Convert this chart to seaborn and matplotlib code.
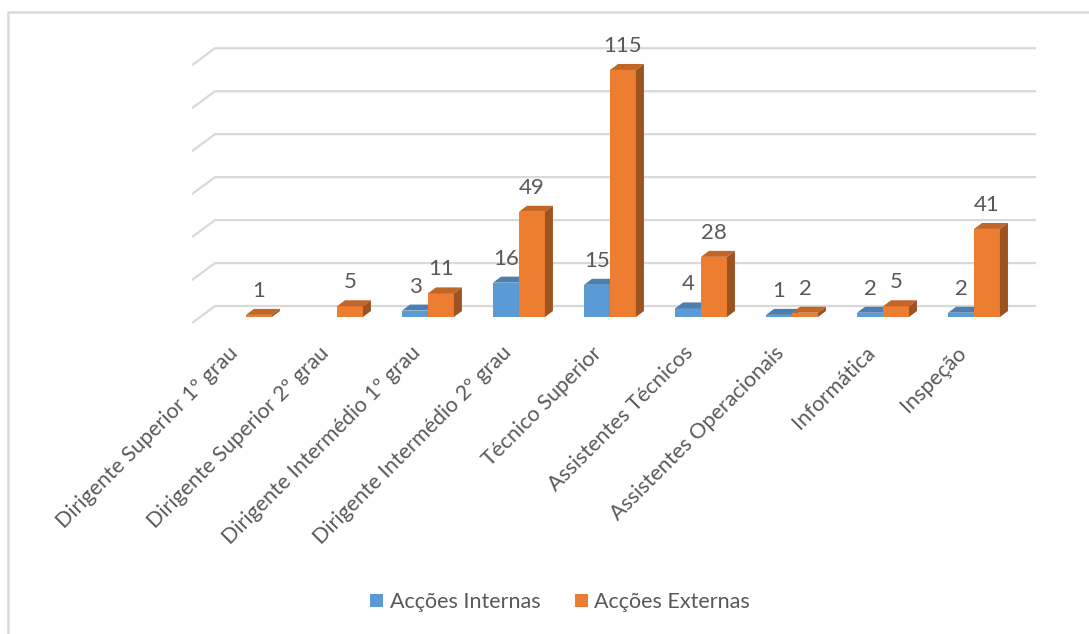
import numpy as np
import pandas as pd
import matplotlib
matplotlib.use("Agg")
import matplotlib.pyplot as plt
import seaborn as sns
from matplotlib.patches import Polygon, Patch
from matplotlib.lines import Line2D
from matplotlib.transforms import ScaledTranslation

# Data
categorias = [
    "Dirigente Superior 1º grau",
    "Dirigente Superior 2º grau",
    "Dirigente Intermédio 1º grau",
    "Dirigente Intermédio 2º grau",
    "Técnico Superior",
    "Assistentes Técnicos",
    "Assistentes Operacionais",
    "Informática",
    "Inspeção",
]
internas = [np.nan, np.nan, 3, 16, 15, 4, 1, 2, 2]
externas = [1, 5, 11, 49, 115, 28, 2, 5, 41]
series = ["Acções Internas", "Acções Externas"]
grid_values = [0, 20, 40, 60, 80, 100, 120]

cores = {"Acções Internas": "#5B9BD5", "Acções Externas": "#ED7D31"}
texto_cor = "#595959"
grelha_cor = "#D9D9D9"

df = pd.DataFrame({
    "categoria": categorias * 2,
    "serie": [series[0]] * len(categorias) + [series[1]] * len(categorias),
    "valor": internas + externas,
})

sns.set_theme(style="white")
plt.rcParams["font.family"] = ["Lato", "DejaVu Sans"]

W, H = 1089, 634
fig = plt.figure(figsize=(W / 100, H / 100), dpi=100)
ax = fig.add_axes([192 / W, 0.4898, 844 / W, 0.4439])

sns.barplot(data=df, x="categoria", y="valor", hue="serie", order=categorias,
            hue_order=series, palette=cores, width=0.57, saturation=1,
            errorbar=None, legend=False, ax=ax, linewidth=0)

ax.set_xlim(-0.593, 8.681)
ax.set_ylim(-3, 128)
fig.canvas.draw()

px_x = ax.bbox.width / (ax.get_xlim()[1] - ax.get_xlim()[0])
px_y = ax.bbox.height / (ax.get_ylim()[1] - ax.get_ylim()[0])

# Depth of the pseudo-3D boxes (pixels -> data units)
dx = 8 / px_x
dy = 6 / px_y

def escurecer(hexcor, f):
    r, g, b = matplotlib.colors.to_rgb(hexcor)
    return (r * f, g * f, b * f)

# Back-wall grid with the floor diagonal on the left
back_up = 11 / px_y
front_down = 6 / px_y
x_left = ax.get_xlim()[0]
x_wall = x_left + 23 / px_x
x_right = ax.get_xlim()[1]
for v in grid_values:
    ax.plot([x_left, x_wall, x_right], [v - front_down, v + back_up, v + back_up],
            color=grelha_cor, lw=1.6, zorder=0.5, solid_capstyle="butt", clip_on=False)

# Identify each bar's series from its colour
rgb_serie = {matplotlib.colors.to_hex(cores[s]): s for s in series}

for bar in list(ax.patches):
    h = bar.get_height()
    if np.isnan(h):
        continue
    serie = rgb_serie.get(matplotlib.colors.to_hex(bar.get_facecolor()[:3]))
    if serie is None:
        continue
    x0 = bar.get_x()
    w = bar.get_width()
    base_z = 2 if serie == series[0] else 3
    bar.set_zorder(base_z)
    cor = cores[serie]
    topo = Polygon([(x0, h), (x0 + w, h), (x0 + w + dx, h + dy), (x0 + dx, h + dy)],
                   closed=True, facecolor=escurecer(cor, 0.82), edgecolor="none",
                   zorder=base_z + 0.1)
    lado = Polygon([(x0 + w, 0), (x0 + w + dx, dy), (x0 + w + dx, h + dy), (x0 + w, h)],
                   closed=True, facecolor=escurecer(cor, 0.66), edgecolor="none",
                   zorder=base_z + 0.1)
    ax.add_patch(topo)
    ax.add_patch(lado)
    ax.annotate(f"{int(h)}", xy=(x0 + w / 2, h), xytext=(0, 24 * 0.72),
                textcoords="offset points", ha="center", va="center",
                fontsize=16, color=texto_cor, zorder=5)

for s in ax.spines.values():
    s.set_visible(False)
ax.set_yticks([])
ax.set_xlabel("")
ax.set_ylabel("")
ax.tick_params(axis="x", length=0, pad=19)
ax.set_xticks(range(len(categorias)))
ax.set_xticklabels(categorias, rotation=45, ha="right", va="center",
                   rotation_mode="anchor", fontsize=15.4, color=texto_cor)
desvio = ScaledTranslation(-11 / 100, 0, fig.dpi_scale_trans)
for lab in ax.get_xticklabels():
    lab.set_transform(lab.get_transform() + desvio)

# Legend
handles = [Patch(facecolor=cores[s], edgecolor="none") for s in series]
fig.legend(handles, series, loc="center", bbox_to_anchor=(560 / W, 1 - 602 / H),
           ncol=2, frameon=False, fontsize=15.5, handlelength=0.6, handleheight=0.6,
           handletextpad=0.3, columnspacing=1.6, labelcolor=texto_cor)

# Chart area border
fig.add_artist(Line2D([8 / W, 8 / W, 1], [0, 1 - 12 / H, 1 - 12 / H],
                      color=grelha_cor, lw=1.8, transform=fig.transFigure))

fig.savefig("out.png", dpi=100, facecolor="white")
